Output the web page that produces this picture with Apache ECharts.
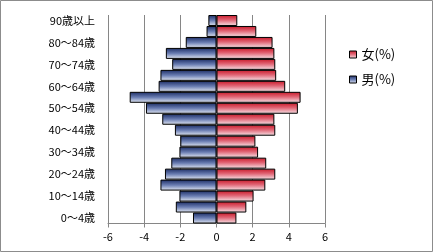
<!DOCTYPE html>
<html><head><meta charset="utf-8">
<script src="https://cdn.jsdelivr.net/npm/echarts@6/dist/echarts.min.js"></script>
<style>html,body{margin:0;padding:0;background:#fff}#c{width:433px;height:252px}</style>
</head><body><div id="c"></div>
<script>
const categories = ['0～4歳','5～9歳','10～14歳','15～19歳','20～24歳','25～29歳','30～34歳','35～39歳','40～44歳','45～49歳','50～54歳','55～59歳','60～64歳','65～69歳','70～74歳','75～79歳','80～84歳','85～89歳','90歳以上'];
const male = [-1.3,-2.25,-2.05,-3.1,-2.85,-2.5,-2.05,-2.0,-2.3,-3.0,-3.9,-4.8,-3.2,-3.1,-2.45,-2.8,-1.7,-0.55,-0.45];
const female = [1.1,1.65,2.05,2.7,3.25,2.75,2.3,2.15,3.25,3.2,4.5,4.65,3.8,3.3,3.25,3.2,3.1,2.2,1.15];
const xTicks = {min:-6, max:6, interval:2};
const seriesNames = ['女(%)','男(%)'];

const font = '"Noto Sans CJK JP", "Noto Sans", sans-serif';
const grad = (stops) => new echarts.graphic.LinearGradient(0,0,0,1, stops.map((c)=>({offset:c[0], color:c[1]})));
const femaleFill = grad([[0,'#c81828'],[0.45,'#e06474'],[1,'#f8e6ea']]);
const maleFill = grad([[0,'#1a2b63'],[0.5,'#6a7db2'],[1,'#e6ebf5']]);

const chart = echarts.init(document.getElementById('c'), null, {renderer:'canvas'});
chart.setOption({
  animation:false,
  backgroundColor:'#fff',
  textStyle:{fontFamily:font},
  grid:{left:108, right:108, top:15, bottom:28.5, containLabel:false},
  legend:{
    orient:'vertical', left:344, top:43, itemWidth:7, itemHeight:7, itemGap:12,
    icon:'rect', data:seriesNames,
    textStyle:{fontFamily:font, fontSize:13, color:'#000'},
    itemStyle:{borderColor:'#000', borderWidth:1}
  },
  xAxis:{
    type:'value', min:xTicks.min, max:xTicks.max, interval:xTicks.interval,
    axisLine:{show:true, onZero:false, lineStyle:{color:'#868686'}},
    axisTick:{show:true, length:4, inside:false, lineStyle:{color:'#868686'}},
    axisLabel:{fontFamily:font, fontSize:11, color:'#000', margin:8},
    splitLine:{show:true, lineStyle:{color:'#868686', width:1}}
  },
  yAxis:{
    type:'category', data:categories,
    axisLine:{show:false}, axisTick:{show:false},
    axisLabel:{interval:1, fontFamily:font, fontSize:11, color:'#000', margin:13}
  },
  series:[
    {name:seriesNames[0], type:'bar', data:female, barGap:'-100%', barCategoryGap:'0%',
     itemStyle:{color:femaleFill, borderColor:'#000', borderWidth:1}},
    {name:seriesNames[1], type:'bar', data:male, barGap:'-100%', barCategoryGap:'0%',
     itemStyle:{color:maleFill, borderColor:'#000', borderWidth:1}}
  ],
  graphic:[{type:'rect', shape:{x:0.5,y:0.5,width:432,height:251}, style:{fill:null, stroke:'#8c8c8c', lineWidth:1}, silent:true}]
});
</script></body></html>
